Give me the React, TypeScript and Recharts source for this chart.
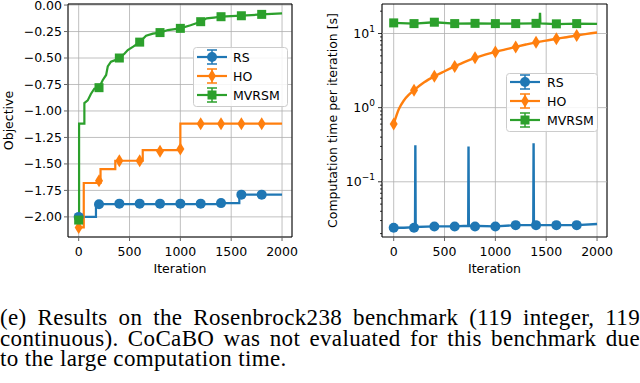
import React from 'react';
import {
  ComposedChart,
  Line,
  Scatter,
  XAxis,
  YAxis,
  CartesianGrid,
  ReferenceArea,
  ReferenceLine,
  Label,
} from 'recharts';

const BLUE = '#1f77b4';
const ORANGE = '#ff7f0e';
const GREEN = '#2ca02c';
const FONT = "'DejaVu Sans', sans-serif";

// shared
const iterTicks = [0, 500, 1000, 1500, 2000];
const markerIter = [0, 200, 400, 600, 800, 1000, 1200, 1400, 1600, 1800];

// left panel: best objective so far
const objTicks = [-2.0, -1.75, -1.5, -1.25, -1.0, -0.75, -0.5, -0.25, 0.0];

const rsObjIter = [0, 170, 1380, 1580, 2000];
const rsObjVal = [-2.0, -1.88, -1.87, -1.79, -1.79];
const rsObjMarks = [-2.0, -1.88, -1.875, -1.875, -1.875, -1.875, -1.875, -1.87, -1.79, -1.79];

const hoObjIter = [0, 50, 215, 360, 630, 1000, 2000];
const hoObjVal = [-2.1, -1.68, -1.55, -1.47, -1.37, -1.12, -1.12];
const hoObjMarks = [-2.1, -1.66, -1.47, -1.47, -1.38, -1.36, -1.12, -1.12, -1.12, -1.12];

// MVRSM path (vertical jumps given as repeated iterations)
const mvObjIter = [0, 4, 4, 56, 56, 89, 120, 154, 200, 236, 270, 286, 318, 360, 400, 450, 483, 540, 600, 663, 730, 800, 877, 1000, 1100, 1200, 1258, 1330, 1400, 1500, 1600, 1700, 1800, 1900, 2000];
const mvObjVal = [-2.03, -2.03, -1.12, -1.12, -0.925, -0.9, -0.84, -0.79, -0.78, -0.71, -0.66, -0.58, -0.535, -0.52, -0.5, -0.46, -0.425, -0.39, -0.35, -0.29, -0.27, -0.26, -0.236, -0.22, -0.19, -0.157, -0.126, -0.118, -0.11, -0.105, -0.1, -0.095, -0.088, -0.083, -0.078];
const mvObjMarks = [-2.03, -0.78, -0.5, -0.35, -0.26, -0.22, -0.157, -0.11, -0.101, -0.088];

// right panel: computation time per iteration [s]
const timeMajor = [0.1, 1, 10];
const timeExp = ['\u22121', '0', '1'];
const timeTicks = [0.02, 0.03, 0.04, 0.05, 0.06, 0.07, 0.08, 0.09, 0.1, 0.2, 0.3, 0.4, 0.5, 0.6, 0.7, 0.8, 0.9, 1, 2, 3, 4, 5, 6, 7, 8, 9, 10, 20];

const rsTimeIter = [0, 100, 210, 213, 216, 400, 600, 733, 736, 739, 1000, 1200, 1373, 1376, 1379, 1600, 1800, 2000];
const rsTimeVal = [0.024, 0.024, 0.0245, 0.31, 0.0245, 0.025, 0.025, 0.0255, 0.3, 0.0255, 0.025, 0.026, 0.026, 0.33, 0.026, 0.026, 0.026, 0.027];
const rsTimeMarks = [0.024, 0.024, 0.025, 0.025, 0.025, 0.025, 0.026, 0.026, 0.026, 0.026];

const hoTimeIter = [0, 50, 100, 150, 200, 300, 400, 500, 600, 700, 800, 900, 1000, 1100, 1200, 1300, 1400, 1500, 1600, 1700, 1800, 1900, 2000];
const hoTimeVal = [0.6, 0.95, 1.25, 1.5, 1.72, 2.2, 2.65, 3.1, 3.6, 4.15, 4.7, 5.2, 5.65, 6.1, 6.6, 7.1, 7.6, 8.0, 8.5, 8.9, 9.4, 9.9, 10.3];
const hoTimeMarks = [0.6, 1.72, 2.65, 3.6, 4.7, 5.65, 6.6, 7.6, 8.5, 9.4];

const mvTimeIter = [0, 200, 400, 600, 800, 1000, 1200, 1400, 1436, 1439, 1442, 1600, 1800, 2000];
const mvTimeVal = [13.9, 13.6, 14.2, 13.6, 13.7, 13.6, 13.6, 13.7, 13.7, 19, 13.7, 13.4, 13.6, 13.5];
const mvTimeMarks = [13.9, 13.6, 14.2, 13.6, 13.7, 13.6, 13.6, 13.7, 13.5, 13.6];

const pts = (xs: number[], ys: number[]) => xs.map((x, i) => ({ x, y: ys[i] }));

const circle = (color: string) => (p: any) => <circle cx={p.cx} cy={p.cy} r={5} fill={color} />;
const diamond = (color: string) => (p: any) => (
  <path d={`M${p.cx},${p.cy - 6.5}L${p.cx + 4},${p.cy}L${p.cx},${p.cy + 6.5}L${p.cx - 4},${p.cy}Z`} fill={color} />
);
const square = (color: string) => (p: any) => <rect x={p.cx - 4.5} y={p.cy - 4.5} width={9} height={9} fill={color} />;

const fmtObj = (v: number) => (v < 0 ? '\u2212' : '') + Math.abs(v).toFixed(2);

const LogTick = (props: any) => {
  const { x, y, payload } = props;
  const idx = timeMajor.indexOf(payload.value);
  const major = idx >= 0;
  return (
    <g>
      <line x1={x + (major ? 2 : 4)} x2={x + 6} y1={y} y2={y} stroke="#000" strokeWidth={0.8} />
      {major && (
        <text x={x - 1} y={y} dy="0.35em" textAnchor="end" fontSize={12.5} fontFamily={FONT} fill="#000">
          10<tspan dy={-6} fontSize={9}>{timeExp[idx]}</tspan>
        </text>
      )}
    </g>
  );
};

const tickStyle = { fontSize: 12.5, fill: '#000', fontFamily: FONT };
const labelStyle = { fontSize: 12.5, fill: '#000', fontFamily: FONT, textAnchor: 'middle' as const };

const series = [
  { name: 'RS', color: BLUE, shape: 'circle' },
  { name: 'HO', color: ORANGE, shape: 'diamond' },
  { name: 'MVRSM', color: GREEN, shape: 'square' },
];

const LegendBox = ({ left, top, width, height, rowY, textX }: any) => (
  <svg style={{ position: 'absolute', left, top }} width={width + 2} height={height + 2}>
    <rect x={0.5} y={0.5} width={width} height={height} rx={3} fill="rgba(255,255,255,0.85)" stroke="#cccccc" />
    {series.map((s, i) => {
      const cy = rowY[i];
      const cx = 19;
      return (
        <g key={s.name}>
          <line x1={4} x2={34} y1={cy} y2={cy} stroke={s.color} strokeWidth={2.2} />
          <line x1={cx} x2={cx} y1={cy - 7} y2={cy + 7} stroke={s.color} strokeWidth={1.5} />
          <line x1={cx - 5} x2={cx + 5} y1={cy - 7} y2={cy - 7} stroke={s.color} strokeWidth={1.5} />
          <line x1={cx - 5} x2={cx + 5} y1={cy + 7} y2={cy + 7} stroke={s.color} strokeWidth={1.5} />
          {s.shape === 'circle' && <circle cx={cx} cy={cy} r={5} fill={s.color} />}
          {s.shape === 'diamond' && (
            <path d={`M${cx},${cy - 6.5}L${cx + 4},${cy}L${cx},${cy + 6.5}L${cx - 4},${cy}Z`} fill={s.color} />
          )}
          {s.shape === 'square' && <rect x={cx - 4.5} y={cy - 4.5} width={9} height={9} fill={s.color} />}
          <text x={textX} y={cy} dy="0.36em" fontSize={12.5} fontFamily={FONT} fill="#000">
            {s.name}
          </text>
        </g>
      );
    })}
  </svg>
);

const ObjectivePanel = () => (
  <ComposedChart width={300} height={290} margin={{ top: 4, right: 8, bottom: 13, left: 0 }}>
    <CartesianGrid stroke="#b0b0b0" strokeWidth={0.8} />
    <XAxis
      dataKey="x"
      type="number"
      domain={[-105, 2098]}
      ticks={iterTicks}
      interval={0}
      allowDataOverflow
      axisLine={false}
      tickSize={4}
      tickMargin={6}
      tick={tickStyle}
      height={40}
    >
      <Label value="Iteration" position="insideBottom" offset={4} style={labelStyle} />
    </XAxis>
    <YAxis
      dataKey="y"
      type="number"
      domain={[-2.19, 0.01]}
      ticks={objTicks}
      interval={0}
      allowDataOverflow
      axisLine={false}
      tickSize={4}
      tickMargin={2}
      tick={tickStyle}
      tickFormatter={fmtObj}
      width={68}
    >
      <Label value="Objective" angle={-90} position="insideLeft" offset={9} style={labelStyle} />
    </YAxis>
    <Line data={pts(rsObjIter, rsObjVal)} dataKey="y" type="stepAfter" stroke={BLUE} strokeWidth={2.2} dot={false} isAnimationActive={false} />
    <Line data={pts(hoObjIter, hoObjVal)} dataKey="y" type="stepAfter" stroke={ORANGE} strokeWidth={2.2} dot={false} isAnimationActive={false} />
    <Line data={pts(mvObjIter, mvObjVal)} dataKey="y" type="linear" stroke={GREEN} strokeWidth={2.2} dot={false} isAnimationActive={false} />
    <Scatter data={pts(markerIter, rsObjMarks)} dataKey="y" shape={circle(BLUE)} isAnimationActive={false} />
    <Scatter data={pts(markerIter, hoObjMarks)} dataKey="y" shape={diamond(ORANGE)} isAnimationActive={false} />
    <Scatter data={pts(markerIter, mvObjMarks)} dataKey="y" shape={square(GREEN)} isAnimationActive={false} />
    <ReferenceArea x1={-105} x2={2098} y1={-2.19} y2={0.01} fill="none" stroke="#000" strokeWidth={1} />
  </ComposedChart>
);

const TimePanel = () => (
  <ComposedChart width={300} height={290} margin={{ top: 4, right: 13, bottom: 13, left: 0 }}>
    <CartesianGrid stroke="#b0b0b0" strokeWidth={0.8} horizontal={false} />
    {timeMajor.map((v) => (
      <ReferenceLine key={v} y={v} stroke="#b0b0b0" strokeWidth={0.8} />
    ))}
    <XAxis
      dataKey="x"
      type="number"
      domain={[-115, 2098]}
      ticks={iterTicks}
      interval={0}
      allowDataOverflow
      axisLine={false}
      tickSize={4}
      tickMargin={6}
      tick={tickStyle}
      height={40}
    >
      <Label value="Iteration" position="insideBottom" offset={4} style={labelStyle} />
    </XAxis>
    <YAxis
      dataKey="y"
      type="number"
      scale="log"
      domain={[0.018, 25]}
      ticks={timeTicks}
      interval={0}
      allowDataOverflow
      axisLine={false}
      tickLine={false}
      tickSize={4}
      tickMargin={2}
      tick={<LogTick />}
      width={62}
    >
      <Label value="Computation time per iteration [s]" angle={-90} position="insideLeft" offset={13} style={labelStyle} />
    </YAxis>
    <Line data={pts(rsTimeIter, rsTimeVal)} dataKey="y" type="linear" stroke={BLUE} strokeWidth={2.4} dot={false} isAnimationActive={false} />
    <Line data={pts(hoTimeIter, hoTimeVal)} dataKey="y" type="monotone" stroke={ORANGE} strokeWidth={2.4} dot={false} isAnimationActive={false} />
    <Line data={pts(mvTimeIter, mvTimeVal)} dataKey="y" type="linear" stroke={GREEN} strokeWidth={2.4} dot={false} isAnimationActive={false} />
    <Scatter data={pts(markerIter, rsTimeMarks)} dataKey="y" shape={circle(BLUE)} isAnimationActive={false} />
    <Scatter data={pts(markerIter, hoTimeMarks)} dataKey="y" shape={diamond(ORANGE)} isAnimationActive={false} />
    <Scatter data={pts(markerIter, mvTimeMarks)} dataKey="y" shape={square(GREEN)} isAnimationActive={false} />
    <ReferenceArea x1={-115} x2={2098} y1={0.018} y2={25} fill="none" stroke="#000" strokeWidth={1} />
  </ComposedChart>
);

const captionLines = [
  '(e) Results on the Rosenbrock238 benchmark (119 integer, 119',
  'continuous). CoCaBO was not evaluated for this benchmark due',
  'to the large computation time.',
];

export default function App() {
  return (
    <div style={{ position: 'absolute', left: 0, top: 0, width: 640, height: 383, background: '#fff', overflow: 'hidden' }}>
      <div style={{ position: 'absolute', left: 0, top: 0 }}>
        <ObjectivePanel />
      </div>
      <div style={{ position: 'absolute', left: 320, top: 0 }}>
        <TimePanel />
      </div>
      <LegendBox left={193} top={47} width={94} height={59} rowY={[10, 29, 48]} textX={40} />
      <LegendBox left={506} top={73} width={91} height={58} rowY={[9, 28, 47]} textX={41} />
      <div
        style={{
          position: 'absolute',
          left: 0,
          top: 308,
          width: 640,
          fontFamily: "'Liberation Serif', 'Times New Roman', serif",
          fontSize: 23,
          lineHeight: '20.5px',
          letterSpacing: 0.35,
          color: '#000',
        }}
      >
        {captionLines.map((t, i) => (
          <div
            key={i}
            style={{
              whiteSpace: 'nowrap',
              textAlign: i < 2 ? 'justify' : 'left',
              textAlignLast: i < 2 ? 'justify' : 'left',
            }}
          >
            {t}
          </div>
        ))}
      </div>
    </div>
  );
}
